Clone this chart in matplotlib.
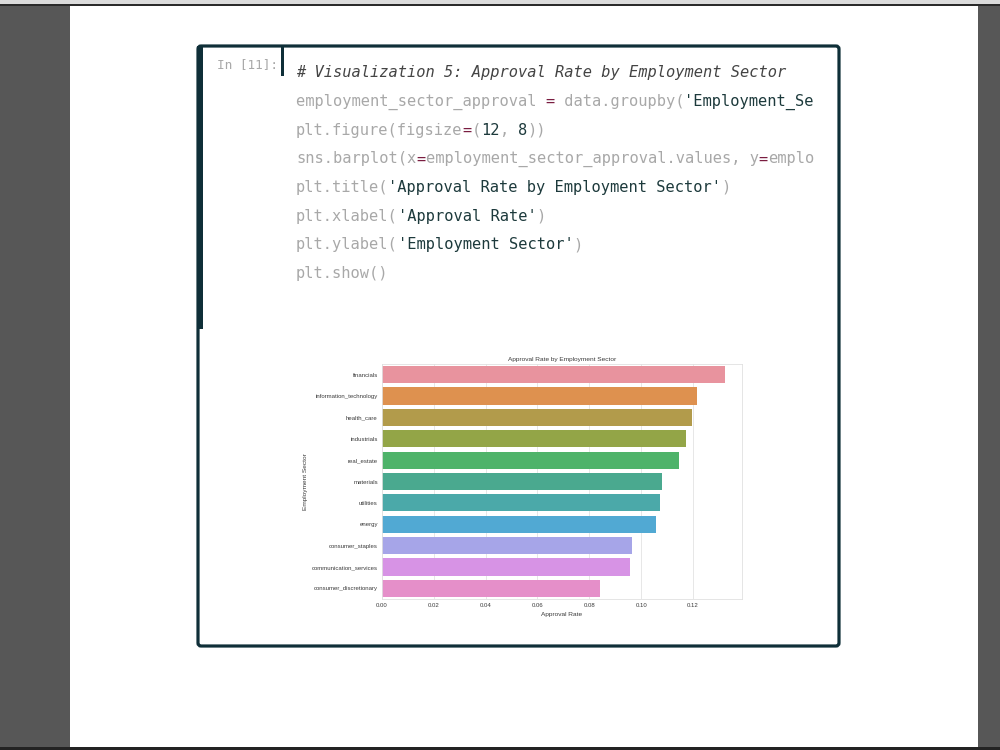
import matplotlib
matplotlib.use("Agg")
import matplotlib.pyplot as plt
from matplotlib.patches import Rectangle, FancyBboxPatch

# data
sectors = ["financials", "information_technology", "health_care", "industrials",
           "real_estate", "materials", "utilities", "energy", "consumer_staples",
           "communication_services", "consumer_discretionary"]
approval = [0.1323, 0.1217, 0.1195, 0.1172, 0.1146, 0.1081, 0.1071, 0.1057,
            0.0966, 0.0956, 0.0840]
xticks = [0.00, 0.02, 0.04, 0.06, 0.08, 0.10, 0.12]

# seaborn-ish husl colours as they show in the screenshot
palette = ["#e8939e", "#de914f", "#b29b4b", "#93a547", "#4eb36a", "#4aa98f",
           "#4ba9a9", "#51a9d3", "#a6a5e8", "#d793e5", "#e58fc9"]

# code cell text, split into (text, kind) pieces
GREY, DARK, OP, COMMENT = "g", "d", "o", "c"
code_lines = [
    [("# Visualization 5: Approval Rate by Employment Sector", COMMENT)],
    [("employment_sector_approval ", GREY), ("=", OP), (" data.groupby(", GREY),
     ("'Employment_Se", DARK)],
    [("plt.figure(figsize", GREY), ("=", OP), ("(", GREY), ("12", DARK),
     (", ", GREY), ("8", DARK), ("))", GREY)],
    [("sns.barplot(x", GREY), ("=", OP), ("employment_sector_approval.values, y", GREY),
     ("=", OP), ("emplo", GREY)],
    [("plt.title(", GREY), ("'Approval Rate by Employment Sector'", DARK), (")", GREY)],
    [("plt.xlabel(", GREY), ("'Approval Rate'", DARK), (")", GREY)],
    [("plt.ylabel(", GREY), ("'Employment Sector'", DARK), (")", GREY)],
    [("plt.show()", GREY)],
]
kind_color = {GREY: "#a8a8a8", DARK: "#1d3a3c", OP: "#7a1d40", COMMENT: "#444444"}

W, H = 1000, 750
fig = plt.figure(figsize=(10, 7.5), dpi=100)
fig.patch.set_facecolor("#575757")

bg = fig.add_axes([0, 0, 1, 1])
bg.set_xlim(0, W)
bg.set_ylim(H, 0)
bg.axis("off")

# viewer chrome
bg.add_patch(Rectangle((0, 0), W, 4, color="#dcdcdc", lw=0))
bg.add_patch(Rectangle((0, 4), W, 2, color="#2b2b2b", lw=0))
bg.add_patch(Rectangle((0, 747), W, 3, color="#232323", lw=0))
bg.add_patch(Rectangle((70, 6), 908, 741, color="white", lw=0))

# notebook cell
cell_col = "#0f2f38"
bg.add_patch(FancyBboxPatch((198, 46), 641, 600, boxstyle="round,pad=0,rounding_size=3",
                            fc="none", ec=cell_col, lw=2.3))
bg.add_patch(Rectangle((197, 46), 6, 283, color=cell_col, lw=0))
bg.add_patch(Rectangle((281, 46), 2.5, 30, color=cell_col, lw=0))
bg.text(217, 65, "In [11]:", family="DejaVu Sans Mono", fontsize=9.2,
        color="#a8a8a8", va="center", ha="left")

char_w = 9.25
fs = char_w / 0.602 * 72 / 100
for i, parts in enumerate(code_lines):
    y = 73 + i * 28.6
    col = 0
    for txt, kind in parts:
        bg.text(296 + col * char_w, y, txt, family="DejaVu Sans Mono", fontsize=fs,
                color=kind_color[kind], style="italic" if kind == COMMENT else "normal",
                va="center", ha="left")
        col += len(txt)

# embedded chart
ax = fig.add_axes([0.382, 1 - 599 / H, 0.360, (599 - 364) / H])
ax.set_facecolor("white")
ax.set_axisbelow(True)
ax.grid(axis="x", color="#e3e3e3", lw=0.6)
ax.barh(range(len(sectors)), approval, height=0.8, color=palette)
ax.set_ylim(len(sectors) - 0.5, -0.5)
ax.set_xlim(0, max(approval) * 1.05)
ax.set_yticks(range(len(sectors)))
ax.set_yticklabels(sectors)
ax.set_xticks(xticks)
ax.set_xticklabels([f"{t:.2f}" for t in xticks])
ax.tick_params(length=0, labelsize=4.35, colors="#3a3a3a", pad=3)
for lab in ax.get_xticklabels() + ax.get_yticklabels():
    lab.set_family("Liberation Sans")
for sp in ax.spines.values():
    sp.set_color("#e0e0e0")
    sp.set_linewidth(0.6)
ax.set_title("Approval Rate by Employment Sector", fontsize=4.65, family="Liberation Sans",
             color="#3a3a3a", pad=2.5)
ax.set_xlabel("Approval Rate", fontsize=4.65, family="Liberation Sans", color="#3a3a3a",
              labelpad=2.5)
ax.set_ylabel("Employment Sector", fontsize=4.65, family="Liberation Sans", color="#3a3a3a",
              labelpad=2.5)

fig.savefig("out.png", dpi=100, facecolor=fig.get_facecolor())
